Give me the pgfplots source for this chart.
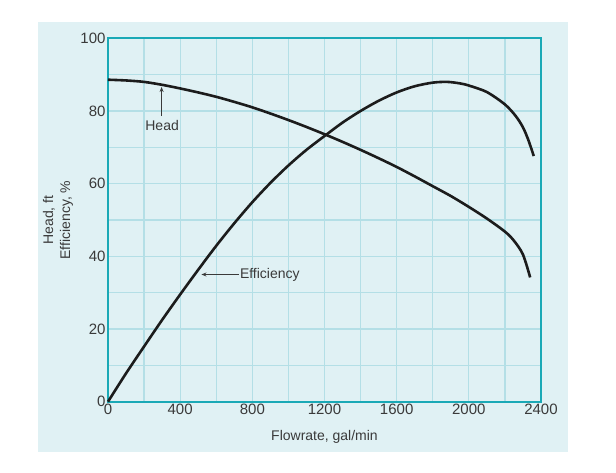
\documentclass[border=0pt]{standalone}
\usepackage{pgfplots}
\pgfplotsset{compat=1.18}
\usepackage{fontspec}
\setmainfont{Liberation Sans}
\usetikzlibrary{arrows.meta}
\definecolor{bgc}{HTML}{E0F1F4}
\definecolor{gridc}{HTML}{B4DFE6}
\definecolor{axc}{HTML}{1AA9B6}
\definecolor{txt}{HTML}{3A3A3A}
\definecolor{crv}{HTML}{1C1C1C}
\begin{document}
\begin{tikzpicture}[x=1pt,y=1pt]
\useasboundingbox (0,0) rectangle (616,473);
\fill[bgc] (38,21) rectangle (568,451);
\begin{axis}[
  at={(108pt,71.3pt)}, anchor=south west,
  scale only axis, width=433pt, height=363.4pt,
  xmin=0, xmax=2400, ymin=0, ymax=100,
  xtick={0,200,...,2400}, ytick={0,10,...,100},
  xticklabels={0,,400,,800,,1200,,1600,,2000,,2400},
  yticklabels={0,,20,,40,,60,,80,,100},
  grid=major,
  major grid style={draw=gridc, line width=1.2pt},
  axis line style={draw=axc, line width=1.8pt},
  major tick length=0pt,
  tick label style={font=\fontsize{15}{17}\selectfont, text=txt},
  xticklabel style={yshift=1pt},
  yticklabel style={xshift=1pt},
  xlabel={Flowrate, gal/min},
  ylabel={Head, ft\\Efficiency, \%},
  label style={font=\fontsize{14}{17}\selectfont, text=txt},
  xlabel style={at={(axis description cs:0.5,0)}, anchor=center, yshift=-35pt},
  ylabel style={at={(axis description cs:0,0.5)}, anchor=center, yshift=50pt, align=center},
  clip=false,
]
\addplot[crv, line width=2.6pt, smooth, tension=0.5] coordinates {
(0,88.6) (100,88.4) (200,88.0) (300,87.2) (400,86.2) (500,85.1) (600,83.9)
(700,82.5) (800,81.0) (900,79.3) (1000,77.5) (1100,75.6) (1200,73.6)
(1300,71.5) (1400,69.3) (1500,67.0) (1600,64.6) (1700,62.0) (1800,59.3)
(1900,56.6) (2000,53.6) (2100,50.4) (2200,46.8) (2250,44.3) (2300,40.5) (2340,34.2)
};
\addplot[crv, line width=2.6pt, smooth, tension=0.5] coordinates {
(0,0) (100,7.8) (200,15.2) (300,22.5) (400,29.5) (500,36.3) (600,42.9)
(700,49.1) (800,54.9) (900,60.2) (1000,65.0) (1100,69.3) (1200,73.1)
(1300,76.8) (1400,80.0) (1500,82.8) (1600,85.1) (1700,86.8) (1800,87.8)
(1880,88.0) (1950,87.6) (2000,87.0) (2100,85.2) (2200,81.8) (2260,78.6) (2300,75.5) (2330,72.0) (2360,67.6)
};
\draw[txt, line width=1pt, -{Stealth[length=5pt,width=4pt]}] (axis cs:297,78.6) -- (axis cs:297,86.6);
\node[txt, font=\fontsize{14}{16}\selectfont] at (axis cs:300,76.0) {Head};
\draw[txt, line width=1pt, -{Stealth[length=5pt,width=4pt]}] (axis cs:725,35.0) -- (axis cs:518,35.0);
\node[txt, font=\fontsize{14}{16}\selectfont, anchor=west, inner sep=1pt] at (axis cs:725,35.0) {Efficiency};
\end{axis}
\end{tikzpicture}
\end{document}
